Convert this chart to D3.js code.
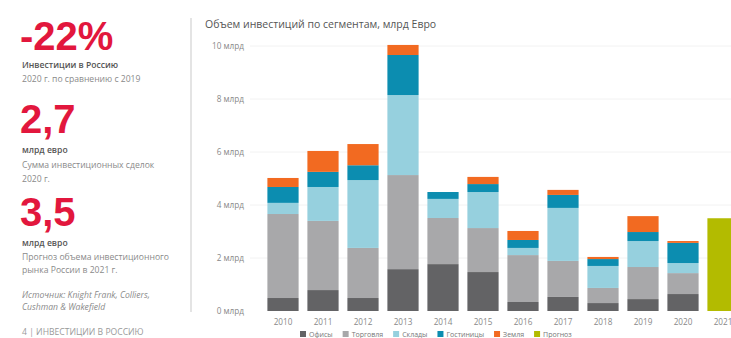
<!DOCTYPE html>
<html><head><meta charset="utf-8">
<script src="https://cdn.jsdelivr.net/npm/d3@7"></script>
<style>
html,body{margin:0;padding:0;background:#fff;}
svg{display:block;font-family:"Open Sans","Noto Sans",sans-serif;}
</style></head>
<body><svg id="c" width="731" height="338"></svg>
<script>
const years = ["2010","2011","2012","2013","2014","2015","2016","2017","2018","2019","2020","2021"];
const segments = ["Офисы","Торговля","Склады","Гостиницы","Земля"];
// values per segment (млрд евро), 2010..2020; 2021 forecast separately
const offices   = [0.49,0.79,0.49,1.58,1.77,1.47,0.34,0.53,0.30,0.45,0.64,0];
const retail    = [3.17,2.61,1.89,3.55,1.74,1.66,1.77,1.36,0.57,1.21,0.79,0];
const warehouse = [0.42,1.28,2.56,3.02,0.72,1.36,0.27,2.00,0.83,0.98,0.38,0];
const hotels    = [0.60,0.57,0.56,1.51,0.26,0.30,0.30,0.49,0.26,0.34,0.76,0];
const land      = [0.34,0.79,0.80,0.38,0.00,0.27,0.34,0.19,0.08,0.60,0.07,0];
const forecast  = [0,0,0,0,0,0,0,0,0,0,0,3.5];
const yTicks = [0,2,4,6,8,10];
const colors = ["#636365","#a8a8aa","#96d0de","#0c8db0","#f26a21"];
const forecastColor = "#b3bb00";

const svg = d3.select("#c");
const red = "#e2173d", grey = "#8a8a8a";

// left panel
const L = svg.append("g");
const big = (t,y)=>L.append("text").attr("x",20).attr("y",y).text(t).attr("fill",red).attr("font-size",40).attr("font-weight",700).attr("font-family","Arial, Liberation Sans, sans-serif");
const small = (t,y,col,w,st)=>L.append("text").attr("x",22).attr("y",y).text(t).attr("fill",col||grey).attr("font-size",8.6).attr("font-weight",w||400).attr("font-style",st||"normal");
big("-22%",50);
small("Инвестиции в Россию",68,"#555",600);
small("2020 г. по сравнению с 2019",82);
big("2,7",133);
small("млрд евро",153,"#555",600);
small("Сумма инвестиционных сделок",168);
small("2020 г.",182);
big("3,5",226);
small("млрд евро",246,"#555",600);
small("Прогноз объема инвестиционного",260);
small("рынка России в 2021 г.",273);
small("Источник: Knight Frank, Colliers,",298,grey,400,"italic");
small("Cushman & Wakefield",310,grey,400,"italic");
small("4   |   ИНВЕСТИЦИИ В РОССИЮ",335,"#999",400);
svg.append("line").attr("x1",191).attr("x2",191).attr("y1",18).attr("y2",312).attr("stroke","#e4e4e4").attr("stroke-width",2);

// chart
const y = d3.scaleLinear().domain([0,10]).range([311,46]);
const x = d3.scaleBand().domain(years).range([263,743]).paddingInner(0.22).paddingOuter(0.11);

svg.append("text").attr("x",205).attr("y",28).text("Объем инвестиций по сегментам, млрд Евро").attr("fill","#555").attr("font-size",10.5);

const yAxis = svg.append("g").attr("transform","translate(244,0)")
  .call(d3.axisLeft(y).tickValues(yTicks).tickSize(0).tickPadding(0).tickFormat(d=>d+" млрд"));
yAxis.select(".domain").remove();
yAxis.selectAll("text").attr("fill","#888").attr("font-size",8.2).attr("font-family","Open Sans, sans-serif");
svg.append("g").selectAll("line").data(yTicks.slice(1)).join("line")
  .attr("x1",250).attr("x2",731).attr("y1",d=>y(d)).attr("y2",d=>y(d)).attr("stroke","#f2f2f2");

const rows = years.map((yr,i)=>({year:yr,"Офисы":offices[i],"Торговля":retail[i],"Склады":warehouse[i],"Гостиницы":hotels[i],"Земля":land[i]}));
const stack = d3.stack().keys(segments)(rows);
svg.append("g").selectAll("g").data(stack).join("g").attr("fill",(d,i)=>colors[i])
  .selectAll("rect").data(d=>d).join("rect")
  .attr("x",d=>x(d.data.year)).attr("width",x.bandwidth())
  .attr("y",d=>y(d[1])).attr("height",d=>Math.max(0,y(d[0])-y(d[1])));
svg.append("g").selectAll("rect").data(years.map((yr,i)=>({year:yr,v:forecast[i]})).filter(d=>d.v>0)).join("rect")
  .attr("x",d=>x(d.year)).attr("width",x.bandwidth()).attr("y",d=>y(d.v)).attr("height",d=>y(0)-y(d.v)).attr("fill",forecastColor);

const xAxis = svg.append("g").attr("transform","translate(0,314)").call(d3.axisBottom(x).tickSize(0).tickPadding(5));
xAxis.select(".domain").remove();
xAxis.selectAll("text").attr("fill","#888").attr("font-size",8.2).attr("font-family","Open Sans, sans-serif");

// legend
const legItems = segments.concat(["Прогноз"]);
const legColors = colors.concat([forecastColor]);
const lg = svg.append("g").attr("transform","translate(300,336)");
let lx = 0;
legItems.forEach((t,i)=>{
  lg.append("rect").attr("x",lx).attr("y",-5).attr("width",6).attr("height",6).attr("fill",legColors[i]);
  const tx = lg.append("text").attr("x",lx+9).attr("y",1).text(t).attr("font-size",7).attr("fill","#777");
  lx += 9 + tx.node().getComputedTextLength() + 10;
});
</script></body></html>
